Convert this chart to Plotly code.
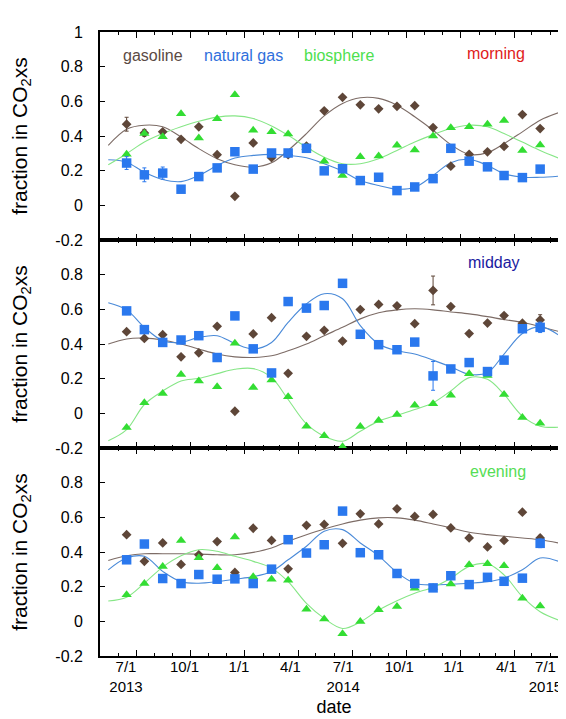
import plotly.graph_objects as go

# ---------------- data ----------------
dates = ["2013-06-15", "2013-07-15", "2013-08-15", "2013-09-15", "2013-10-15", "2013-11-15",
         "2013-12-15", "2014-01-15", "2014-02-15", "2014-03-15", "2014-04-15", "2014-05-15",
         "2014-06-15", "2014-07-15", "2014-08-15", "2014-09-15", "2014-10-15", "2014-11-15",
         "2014-12-15", "2015-01-15", "2015-02-15", "2015-03-15", "2015-04-15", "2015-05-15"]
curve_dates = ["2013-05-15"] + dates + ["2015-06-15"]

# morning
m_gas = [0.468, 0.418, 0.424, 0.381, 0.453, 0.292, 0.052, 0.360, 0.275, 0.292, 0.342, 0.545,
         0.623, 0.580, 0.557, 0.571, 0.575, 0.449, 0.226, 0.294, 0.309, 0.340, 0.524, 0.443]
m_ng = [0.244, 0.176, 0.186, 0.093, 0.166, 0.216, 0.309, 0.209, 0.302, 0.302, 0.329, 0.199,
        0.211, 0.143, 0.162, 0.085, 0.106, 0.154, 0.329, 0.255, 0.222, 0.172, 0.160, 0.209]
m_bio = [0.294, 0.414, 0.395, 0.528, 0.389, 0.499, 0.638, 0.433, 0.425, 0.412, 0.333, 0.255,
         0.172, 0.280, 0.284, 0.346, 0.319, 0.400, 0.447, 0.454, 0.468, 0.489, 0.317, 0.348]
m_gas_err = [0.04, 0.02] + [None] * 22
m_ng_err = [0.037, 0.04, 0.035] + [None] * 21
m_bio_err = [None] * 24
m_gas_fit = [0.346, 0.439, 0.462, 0.453, 0.394, 0.327, 0.269, 0.234, 0.220, 0.245, 0.317, 0.414, 0.516,
             0.588, 0.621, 0.617, 0.578, 0.511, 0.433, 0.350, 0.294, 0.304, 0.356, 0.424, 0.491, 0.534]
m_ng_fit = [0.263, 0.249, 0.191, 0.149, 0.137, 0.172, 0.230, 0.273, 0.288, 0.294, 0.288, 0.275, 0.240,
            0.197, 0.143, 0.114, 0.093, 0.104, 0.172, 0.246, 0.265, 0.230, 0.182, 0.162, 0.162, 0.168]
m_bio_fit = [0.234, 0.298, 0.365, 0.414, 0.453, 0.485, 0.509, 0.516, 0.501, 0.458, 0.404, 0.336, 0.278,
             0.240, 0.240, 0.269, 0.317, 0.365, 0.408, 0.443, 0.462, 0.453, 0.414, 0.365, 0.317, 0.273]

# midday
d_gas = [0.471, 0.432, 0.454, 0.326, 0.349, 0.502, 0.012, 0.458, 0.552, 0.231, 0.444, 0.479,
         0.417, 0.599, 0.628, 0.620, 0.517, 0.709, 0.616, 0.460, 0.521, 0.564, 0.520, 0.539]
d_ng = [0.591, 0.483, 0.409, 0.423, 0.448, 0.322, 0.562, 0.372, 0.233, 0.645, 0.607, 0.622,
        0.750, 0.456, 0.396, 0.367, 0.411, 0.216, 0.256, 0.293, 0.241, 0.307, 0.488, 0.496]
d_bio = [-0.082, 0.061, 0.115, 0.224, 0.187, 0.154, 0.404, 0.149, 0.192, 0.096, -0.075, -0.129,
         -0.193, -0.076, -0.041, -0.007, 0.047, 0.055, 0.104, 0.229, 0.218, 0.109, -0.024, -0.057]
d_gas_err = [None] * 17 + [0.083] + [None] * 5 + [0.03]
d_ng_err = [0.015] + [None] * 7 + [0.02] + [None] * 8 + [0.083] + [None] * 5 + [0.03]
d_bio_err = [None] * 24
d_gas_fit = [0.400, 0.429, 0.434, 0.423, 0.400, 0.371, 0.342, 0.326, 0.322, 0.332, 0.361, 0.400, 0.448,
             0.496, 0.545, 0.580, 0.597, 0.603, 0.597, 0.585, 0.574, 0.558, 0.541, 0.525, 0.500, 0.473]
d_ng_fit = [0.638, 0.597, 0.496, 0.419, 0.409, 0.438, 0.448, 0.403, 0.371, 0.409, 0.525, 0.632, 0.690,
            0.661, 0.506, 0.400, 0.361, 0.342, 0.307, 0.268, 0.225, 0.235, 0.342, 0.461, 0.500, 0.452]
d_bio_fit = [-0.158, -0.094, 0.051, 0.129, 0.187, 0.202, 0.229, 0.254, 0.258, 0.206, 0.080, -0.061, -0.132,
             -0.161, -0.103, -0.045, -0.011, 0.022, 0.061, 0.129, 0.206, 0.196, 0.109, -0.016, -0.074, -0.080]

# evening
e_gas = [0.500, 0.346, 0.452, 0.328, 0.384, 0.460, 0.282, 0.537, 0.467, 0.303, 0.554, 0.559,
         0.450, 0.620, 0.562, 0.649, 0.605, 0.617, 0.539, 0.481, 0.429, 0.467, 0.630, 0.481]
e_ng = [0.355, 0.446, 0.247, 0.218, 0.270, 0.243, 0.245, 0.218, 0.301, 0.471, 0.394, 0.442,
        0.636, 0.396, 0.384, 0.276, 0.218, 0.193, 0.263, 0.212, 0.254, 0.231, 0.249, 0.450]
e_bio = [0.154, 0.218, 0.317, 0.467, 0.367, 0.309, 0.487, 0.257, 0.243, 0.237, 0.069, 0.013,
         -0.071, -0.001, 0.067, 0.086, 0.191, 0.195, 0.216, 0.326, 0.332, 0.321, 0.133, 0.088]
e_gas_err = [None] * 23 + [0.015]
e_ng_err = [None, 0.02] + [None] * 11 + [0.02] + [None] * 9 + [0.025]
e_bio_err = [None] * 24
e_gas_fit = [0.351, 0.378, 0.390, 0.390, 0.390, 0.388, 0.384, 0.384, 0.398, 0.423, 0.462, 0.500, 0.533,
             0.562, 0.584, 0.597, 0.597, 0.584, 0.562, 0.539, 0.514, 0.500, 0.491, 0.481, 0.471, 0.452]
e_ng_fit = [0.297, 0.365, 0.375, 0.288, 0.229, 0.220, 0.229, 0.243, 0.258, 0.288, 0.355, 0.433, 0.520,
            0.529, 0.452, 0.378, 0.282, 0.220, 0.210, 0.214, 0.220, 0.229, 0.249, 0.297, 0.365, 0.346]
e_bio_fit = [0.117, 0.139, 0.220, 0.313, 0.378, 0.413, 0.404, 0.375, 0.346, 0.307, 0.229, 0.104, 0.017,
             -0.041, -0.003, 0.065, 0.119, 0.162, 0.197, 0.249, 0.317, 0.332, 0.268, 0.142, 0.055, 0.007]

# x ticks (quarterly marks) and their labels (labels sit slightly left of the marks, as in the original)
x_tickvals = ["2013-07-01", "2013-10-01", "2014-01-01", "2014-04-01", "2014-07-01",
              "2014-10-01", "2015-01-01", "2015-04-01", "2015-07-01"]
x_labelpos = ["2013-06-14", "2013-09-21", "2013-12-22", "2014-03-19", "2014-06-16",
              "2014-09-19", "2014-12-20", "2015-03-19", "2015-05-24"]
x_ticktext = ["7/1<br>2013", "10/1", "1/1", "4/1", "7/1<br>2014",
              "10/1", "1/1", "4/1", "7/1<br>2015"]
y_ticks_top = [-0.2, 0, 0.2, 0.4, 0.6, 0.8, 1]
y_text_top = ["-0.2", "0", "0.2", "0.4", "0.6", "0.8", "1"]
y_ticks_low = [-0.2, 0, 0.2, 0.4, 0.6, 0.8]
y_text_low = ["-0.2", "0", "0.2", "0.4", "0.6", "0.8"]

# ---------------- style ----------------
C_GAS, C_GAS_L = "#5e4638", "#7d6c66"
C_NG, C_NG_L = "#2a78ee", "#4a8ad8"
C_BIO, C_BIO_L = "#33dd33", "#86e686"
FONT = "Liberation Sans, Arial, Helvetica, sans-serif"
X_RANGE = ["2013-05-01", "2015-07-01 02:00"]

panels = [
    ("x3", "y3", m_gas, m_ng, m_bio, m_gas_err, m_ng_err, m_bio_err, m_gas_fit, m_ng_fit, m_bio_fit),
    ("x2", "y2", d_gas, d_ng, d_bio, d_gas_err, d_ng_err, d_bio_err, d_gas_fit, d_ng_fit, d_bio_fit),
    ("x", "y", e_gas, e_ng, e_bio, e_gas_err, e_ng_err, e_bio_err, e_gas_fit, e_ng_fit, e_bio_fit),
]

fig = go.Figure()
for xa, ya, g, n, b, ge, ne, be, gf, nf, bf in panels:
    for fit, col in ((gf, C_GAS_L), (nf, C_NG_L), (bf, C_BIO_L)):
        fig.add_trace(go.Scatter(x=curve_dates, y=fit, mode="lines", xaxis=xa, yaxis=ya,
                                 line=dict(color=col, width=1.1, shape="spline", smoothing=1.0),
                                 showlegend=False, hoverinfo="skip"))
    for vals, err, col, sym, sz in ((g, ge, C_GAS, "diamond", 7.5),
                                    (b, be, C_BIO, "triangle-up", 9),
                                    (n, ne, C_NG, "square", 9.5)):
        fig.add_trace(go.Scatter(x=dates, y=vals, mode="markers", xaxis=xa, yaxis=ya,
                                 marker=dict(symbol=sym, size=sz, color=col, line=dict(width=0)),
                                 error_y=dict(type="data", array=err, visible=True,
                                              color=col, thickness=1, width=2),
                                 showlegend=False))

# empty trace so the label-only date axis is drawn
fig.add_trace(go.Scatter(x=[], y=[], xaxis="x4", yaxis="y", mode="markers",
                         showlegend=False, hoverinfo="skip"))

xcommon = dict(range=X_RANGE, type="date",
               tickvals=x_tickvals, showticklabels=False,
               ticks="inside", ticklen=6, tickwidth=1.3, tickcolor="black",
               minor=dict(dtick="M1", tick0="2013-05-01", ticks="inside", ticklen=3,
                          tickwidth=1.3, tickcolor="black", showgrid=False),
               showline=True, linecolor="black", linewidth=1.8, mirror="ticks",
               showgrid=False, zeroline=False, automargin=False)
ycommon = dict(range=[-0.2, 1.0], ticks="inside", ticklen=5, tickwidth=1.3, tickcolor="black",
               showline=True, linecolor="black", linewidth=1.8, mirror="ticks",
               showgrid=False, zeroline=False, automargin=False, ticklabelstandoff=12,
               tickfont=dict(family=FONT, size=16, color="black"),
               title=dict(text="fraction in CO<sub>2</sub>xs", standoff=22,
                          font=dict(family=FONT, size=21, color="black")))

fig.update_layout(
    width=566, height=719,
    margin=dict(l=92, r=6, t=24, b=71),
    paper_bgcolor="white", plot_bgcolor="white",
    showlegend=False,
    font=dict(family=FONT, color="black"),
    xaxis=dict(**xcommon, anchor="y"),
    xaxis2=dict(**xcommon, anchor="y2", matches="x"),
    xaxis3=dict(**xcommon, anchor="y3", matches="x"),
    # label-only axis for the date tick labels and the axis title
    xaxis4=dict(range=X_RANGE, type="date", overlaying="x", anchor="y", side="bottom",
                tickvals=x_labelpos, ticktext=x_ticktext, ticks="", showline=False,
                showgrid=False, zeroline=False, automargin=False, ticklabeloverflow="allow",
                ticklabelstandoff=0,
                tickfont=dict(family=FONT, size=15, color="black"),
                title=dict(text="date", standoff=6,
                           font=dict(family=FONT, size=18, color="black"))),
    yaxis=dict(**ycommon, domain=[0, 1 / 3], anchor="x", tickvals=y_ticks_low, ticktext=y_text_low),
    yaxis2=dict(**ycommon, domain=[1 / 3, 2 / 3], anchor="x2", tickvals=y_ticks_low, ticktext=y_text_low),
    yaxis3=dict(**ycommon, domain=[2 / 3, 1], anchor="x3", tickvals=y_ticks_top, ticktext=y_text_top),
)

labels = [
    ("gasoline", 0.113, 0.962, "#5b4a44"),
    ("natural gas", 0.306, 0.962, "#2f6fdc"),
    ("biosphere", 0.511, 0.962, "#4ee04e"),
    ("morning", 0.846, 0.965, "#e0201a"),
    ("midday", 0.842, 0.630, "#1a1aa0"),
    ("evening", 0.850, 0.295, "#55dd55"),
]
for txt, xp, yp, col in labels:
    fig.add_annotation(text=txt, x=xp, y=yp, xref="paper", yref="paper", showarrow=False,
                       xanchor="center", yanchor="middle",
                       font=dict(family=FONT, size=16, color=col))

fig.write_html("out.html")
